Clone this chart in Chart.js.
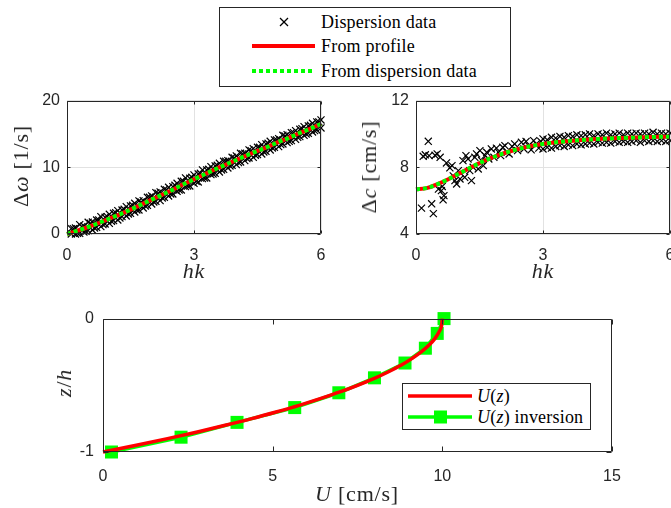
<!DOCTYPE html>
<html><head><meta charset="utf-8">
<script src="https://cdn.jsdelivr.net/npm/chart.js@4.4.1/dist/chart.umd.min.js"></script>
<style>
html,body{margin:0;padding:0;}
body{width:671px;height:508px;overflow:hidden;background:#fff;position:relative;}
canvas{position:absolute;}
.lbl{position:absolute;font-family:"Liberation Serif","DejaVu Serif",serif;font-size:22px;color:#262626;white-space:nowrap;transform:translate(-50%,-50%);letter-spacing:0.8px;}
.rot{transform:translate(-50%,-50%) rotate(-90deg);}
i{font-style:italic;}
.leg{position:absolute;border:1px solid #262626;background:#fff;box-sizing:border-box;font-family:"Liberation Serif","DejaVu Serif",serif;color:#000;}
.row{position:absolute;left:0;height:24px;width:100%;}
.row svg{position:absolute;top:0;}
.row span{position:absolute;top:0;line-height:24px;font-size:18px;letter-spacing:0.2px;white-space:nowrap;}
</style>
</head><body>
<canvas id="c1" width="340" height="206" style="left:0;top:84px"></canvas>
<canvas id="c2" width="340" height="206" style="left:349px;top:84px"></canvas>
<canvas id="c3" width="671" height="208" style="left:0;top:300px"></canvas>

<div class="lbl rot" style="left:21px;top:166px">Δ<i>ω</i> [1/s]</div>
<div class="lbl" style="left:194px;top:271px"><i>hk</i></div>
<div class="lbl rot" style="left:369px;top:167px">Δ<i>c</i> [cm/s]</div>
<div class="lbl" style="left:543px;top:271px"><i>hk</i></div>
<div class="lbl rot" style="left:64px;top:383px"><i>z</i>/<i>h</i></div>
<div class="lbl" style="left:357px;top:494px"><i>U</i> [cm/s]</div>

<div class="leg" style="left:219px;top:7px;width:292px;height:80px">
  <div class="row" style="top:2px">
    <svg width="70" height="24" style="left:30px"><line x1="30" y1="8" x2="38" y2="16" stroke="#000" stroke-width="1.3"/><line x1="38" y1="8" x2="30" y2="16" stroke="#000" stroke-width="1.3"/></svg>
    <span style="left:101px">Dispersion data</span>
  </div>
  <div class="row" style="top:26px">
    <svg width="70" height="24" style="left:32px"><line x1="0" y1="12" x2="63" y2="12" stroke="#ff0000" stroke-width="4"/></svg>
    <span style="left:101px">From profile</span>
  </div>
  <div class="row" style="top:51px">
    <svg width="70" height="24" style="left:32px"><line x1="0" y1="12" x2="63" y2="12" stroke="#00ff00" stroke-width="4" stroke-dasharray="4 3"/></svg>
    <span style="left:101px">From dispersion data</span>
  </div>
</div>

<div class="leg" style="left:402px;top:383px;width:189px;height:47px">
  <div class="row" style="top:0px">
    <svg width="70" height="24" style="left:5px"><line x1="0" y1="12" x2="64" y2="12" stroke="#ff0000" stroke-width="3.5"/></svg>
    <span style="left:74px"><i>U</i>(<i>z</i>)</span>
  </div>
  <div class="row" style="top:21px">
    <svg width="70" height="24" style="left:5px"><line x1="0" y1="12" x2="64" y2="12" stroke="#00ff00" stroke-width="3.5"/><rect x="26" y="5.5" width="13" height="13" fill="#00ff00"/></svg>
    <span style="left:74px"><i>U</i>(<i>z</i>) inversion</span>
  </div>
</div>

<script>
// ---- tick labels ----
const hkTicks = [0, 3, 6];
const omegaTicks = [0, 10, 20];
const cTicks = [4, 8, 12];
const uTicks = [0, 5, 10, 15];
const zTicks = [-1, 0];

// ---- curves (top plots) ----
const curveHk = [0,0.25,0.5,0.75,1,1.25,1.5,1.75,2,2.25,2.5,2.75,3,3.25,3.5,3.75,4,4.25,4.5,4.75,5,5.25,5.5,5.75,6];
const omegaFromProfile = [0,0.5,1.05,1.65,2.3,2.95,3.65,4.4,5.15,5.9,6.65,7.45,8.2,8.95,9.7,10.4,11.1,11.8,12.45,13.1,13.8,14.45,15.15,15.8,16.5];
const omegaFromDispersion = [0,0.5,1.05,1.65,2.3,2.95,3.65,4.4,5.15,5.9,6.65,7.45,8.2,8.95,9.7,10.4,11.1,11.8,12.45,13.1,13.8,14.45,15.15,15.8,16.5];
const cFromProfile = [6.68,6.75,6.98,7.27,7.6,7.93,8.25,8.53,8.78,8.98,9.15,9.29,9.4,9.48,9.55,9.6,9.65,9.69,9.72,9.75,9.77,9.79,9.81,9.83,9.84];
const cFromDispersion = [6.68,6.75,6.98,7.27,7.6,7.93,8.25,8.53,8.78,8.98,9.15,9.29,9.4,9.48,9.55,9.6,9.65,9.69,9.72,9.75,9.77,9.79,9.81,9.83,9.84];

// ---- dispersion data (top-left) ----
const scatHk = [0.1,0.2,0.3,0.4,0.5,0.6,0.7,0.8,0.9,1.0,1.1,1.2,1.3,1.4,1.5,1.6,1.7,1.8,1.9,2.0,2.1,2.2,2.3,2.4,2.5,2.6,2.7,2.8,2.9,3.0,3.1,3.2,3.3,3.4,3.5,3.6,3.7,3.8,3.9,4.0,4.1,4.2,4.3,4.4,4.5,4.6,4.7,4.8,4.9,5.0,5.1,5.2,5.3,5.4,5.5,5.6,5.7,5.8,5.9,6.0];
const scatOmegaUpper = [0.8,0.9,1.4,1.2,1.75,1.8,2.1,2.6,2.5,2.95,3.1,3.5,3.6,4.1,4.2,4.6,4.95,5.0,5.5,5.7,6.2,6.3,6.7,7.0,7.1,7.6,7.9,8.4,8.35,8.85,9.0,9.6,9.6,10.1,10.2,10.6,10.9,11.0,11.5,11.7,12.1,12.1,12.6,12.8,13.0,13.4,13.5,13.9,14.1,14.3,14.8,14.9,15.2,15.5,15.7,16.1,16.2,16.6,16.8,17.1];
const scatOmegaLower = [0.0,0.0,0.1,0.3,0.5,0.6,1.0,1.1,1.5,1.6,2.0,2.1,2.6,2.7,3.1,3.3,3.6,3.9,4.3,4.5,4.9,5.0,5.5,5.7,6.0,6.4,6.6,7.1,7.2,7.6,7.8,8.3,8.4,8.9,9.1,9.3,9.7,9.9,10.3,10.4,10.8,11.0,11.4,11.5,11.9,12.0,12.4,12.6,13.0,13.1,13.5,13.7,14.0,14.2,14.6,14.8,15.1,15.3,15.6,15.9];
const scatHkMid = [0.15,0.25,0.35,0.45,0.55,0.65,0.75,0.85,0.95,1.05,1.15,1.25,1.35,1.45,1.55,1.65,1.75,1.85,1.95,2.05,2.15,2.25,2.35,2.45,2.55,2.65,2.75,2.85,2.95,3.05,3.15,3.25,3.35,3.45,3.55,3.65,3.75,3.85,3.95,4.05,4.15,4.25,4.35,4.45,4.55,4.65,4.75,4.85,4.95,5.05,5.15,5.25,5.35,5.45,5.55,5.65,5.75,5.85,5.95];
const scatOmegaMid = [0.8,0.1,1.1,0.4,1.6,0.9,2.1,1.4,2.6,1.9,3.2,2.4,3.7,3.0,4.3,3.6,4.8,4.2,5.5,4.8,6.1,5.4,6.6,6.0,7.3,6.6,7.9,7.2,8.5,7.9,9.1,8.4,9.7,9.0,10.3,9.6,10.9,10.2,11.4,10.7,12.0,11.3,12.5,11.8,13.0,12.3,13.6,12.9,14.1,13.4,14.7,13.9,15.2,14.5,15.8,15.0,16.3,15.5,16.8];

// ---- dispersion data (top-right) ----
const lowHk = [0.13,0.17,0.22,0.29,0.31,0.37,0.41,0.45,0.5,0.57,0.53,0.6,0.64,0.66,0.62,0.72,0.8,0.85,0.88,0.92,0.96,1.0,1.04,1.11,1.15,1.18,1.23,1.27,1.31,1.35,1.39,1.43,1.47,1.51,1.55,1.59,1.63,1.67,1.72,1.78,1.84,1.9,1.95,2.0,2.05,2.1,2.15,2.2,2.27,2.33,2.4,2.49,2.55,2.6,2.66,2.72,2.78,2.84,2.9,2.95];
const lowC = [5.55,8.66,8.75,9.56,8.7,5.81,5.22,8.72,8.8,8.6,6.69,6.6,6.05,6.3,6.85,8.26,7.97,8.1,7.48,7.2,7.0,7.8,7.3,8.4,7.4,8.7,8.5,7.8,7.2,8.0,8.6,8.8,7.9,9.0,8.4,8.1,8.7,8.9,8.5,9.1,8.6,9.15,8.9,8.7,9.2,9.3,8.9,8.8,9.25,9.4,9.0,9.5,9.1,9.55,9.3,9.05,9.6,9.4,9.15,9.55];
const bandHk = [3.0,3.1,3.2,3.3,3.4,3.5,3.6,3.7,3.8,3.9,4.0,4.1,4.2,4.3,4.4,4.5,4.6,4.7,4.8,4.9,5.0,5.1,5.2,5.3,5.4,5.5,5.6,5.7,5.8,5.9,6.0];
const bandCUpper = [9.7,9.65,9.8,9.75,9.85,9.8,9.9,9.85,9.95,9.9,9.95,10.0,9.9,10.0,9.95,10.05,9.95,10.0,10.05,9.95,10.05,10.0,10.05,10.0,10.05,10.0,10.1,10.0,10.05,10.0,10.05];
const bandCLower = [9.1,9.2,9.15,9.25,9.3,9.25,9.35,9.3,9.4,9.35,9.4,9.45,9.4,9.5,9.45,9.5,9.45,9.55,9.5,9.55,9.5,9.55,9.6,9.5,9.6,9.55,9.6,9.55,9.6,9.55,9.6];

// ---- velocity profile (bottom) ----
const profileZ = [-1,-0.95,-0.9,-0.85,-0.8,-0.75,-0.7,-0.65,-0.6,-0.55,-0.5,-0.45,-0.4,-0.35,-0.3,-0.25,-0.2,-0.15,-0.1,-0.05,0];
const profileU = [0,0.98,1.9,2.78,3.6,4.38,5.1,5.78,6.4,6.98,7.5,7.98,8.4,8.78,9.1,9.38,9.6,9.78,9.9,9.98,10.0];
const inversionZ = [-1,-0.889,-0.778,-0.667,-0.556,-0.444,-0.333,-0.222,-0.111,0];
const inversionU = [0.25,2.3,3.95,5.65,6.95,8.0,8.9,9.5,9.85,10.05];

// ---- helpers ----
const pts = (xs, ys) => xs.map((x, i) => ({x, y: ys[i]}));
const AX = '#262626';
const tickFont = {family: '"Liberation Sans", Arial, sans-serif', size: 16};

const boxPlugin = {
  id: 'box',
  afterDraw(chart, args, opts) {
    const {ctx, chartArea: a, scales: {x, y}} = chart;
    const L = opts.len || 4;
    const l = Math.round(a.left) + 0.5, t = Math.round(a.top) + 0.5;
    const r = Math.round(a.right) - 0.5, b = Math.round(a.bottom) - 0.5;
    ctx.save();
    ctx.strokeStyle = AX; ctx.lineWidth = 1;
    ctx.beginPath();
    ctx.moveTo(l, t); ctx.lineTo(r, t); ctx.lineTo(r, b); ctx.lineTo(l, b); ctx.closePath();
    x.ticks.forEach(tk => {
      const p = Math.round(x.getPixelForValue(tk.value)) + 0.5;
      ctx.moveTo(p, b); ctx.lineTo(p, b - L);
      ctx.moveTo(p, t); ctx.lineTo(p, t + L);
    });
    y.ticks.forEach(tk => {
      const p = Math.round(y.getPixelForValue(tk.value)) + 0.5;
      ctx.moveTo(l, p); ctx.lineTo(l + L, p);
      ctx.moveTo(r, p); ctx.lineTo(r - L, p);
    });
    ctx.stroke();
    ctx.restore();
  }
};

function scales(xmin, xmax, xt, ymin, ymax, yt, yw, grid, xpad, ypad) {
  const g = grid ? {display: true, color: '#e2e2e2', drawTicks: false} : {display: false, drawTicks: false};
  return {
    x: {type: 'linear', min: xmin, max: xmax,
        afterBuildTicks: s => { s.ticks = xt.map(v => ({value: v})); },
        afterFit: s => { s.height = 56; },
        ticks: {font: tickFont, color: AX, padding: xpad, maxRotation: 0},
        grid: g, border: {display: false}},
    y: {type: 'linear', min: ymin, max: ymax,
        afterBuildTicks: s => { s.ticks = yt.map(v => ({value: v})); },
        afterFit: s => { s.width = yw; },
        ticks: {font: tickFont, color: AX, padding: ypad},
        grid: g, border: {display: false}}
  };
}

const baseOpts = (sc, pad, len) => ({
  responsive: false, animation: false, devicePixelRatio: 1,
  layout: {padding: pad},
  plugins: {legend: {display: false}, tooltip: {enabled: false}, box: {len}},
  scales: sc
});

const crossDs = (data) => ({
  data, showLine: false, pointStyle: 'crossRot', pointRadius: 5, pointBorderWidth: 1.2,
  borderColor: '#000', backgroundColor: '#000', clip: false, order: 3
});
const redDs = (data) => ({
  data, showLine: true, borderColor: '#ff0000', borderWidth: 4, pointRadius: 0,
  cubicInterpolationMode: 'monotone', order: 2, clip: false
});
const greenDotDs = (data) => ({
  data, showLine: true, borderColor: '#00ff00', borderWidth: 4, borderDash: [4, 3], pointRadius: 0,
  cubicInterpolationMode: 'monotone', order: 1, clip: false, borderCapStyle: 'butt'
});

// Chart 1: Δω vs hk
new Chart(document.getElementById('c1'), {
  type: 'scatter',
  data: {datasets: [
    crossDs(pts(scatHk, scatOmegaUpper).concat(pts(scatHk, scatOmegaLower), pts(scatHkMid, scatOmegaMid))),
    redDs(pts(curveHk, omegaFromProfile)),
    greenDotDs(pts(curveHk, omegaFromDispersion))
  ]},
  options: baseOpts(scales(0, 6, hkTicks, 0, 20, omegaTicks, 67, true, 12, 7),
    {top: 14, right: 19, left: 0, bottom: 0}, 3),
  plugins: [boxPlugin]
});

// Chart 2: Δc vs hk
new Chart(document.getElementById('c2'), {
  type: 'scatter',
  data: {datasets: [
    crossDs(pts(lowHk, lowC).concat(pts(bandHk, bandCUpper), pts(bandHk, bandCLower))),
    redDs(pts(curveHk, cFromProfile)),
    greenDotDs(pts(curveHk, cFromDispersion))
  ]},
  options: baseOpts(scales(0, 6, hkTicks, 4, 12, cTicks, 67, true, 12, 7),
    {top: 14, right: 19, left: 0, bottom: 0}, 3),
  plugins: [boxPlugin]
});

// Chart 3: z/h vs U
new Chart(document.getElementById('c3'), {
  type: 'scatter',
  data: {datasets: [
    {data: pts(inversionU, inversionZ), showLine: true, borderColor: '#00ff00', borderWidth: 3.5,
     pointStyle: 'rect', pointRadius: 9.2, pointBorderWidth: 0, backgroundColor: '#00ff00',
     pointBackgroundColor: '#00ff00', clip: false, order: 2},
    {data: pts(profileU, profileZ), showLine: true, borderColor: '#ff0000', borderWidth: 3.5,
     pointRadius: 0, cubicInterpolationMode: 'monotone', clip: false, order: 1}
  ]},
  options: baseOpts(scales(0, 15, uTicks, -1, 0, zTicks, 103, false, 15, 9),
    {top: 16, right: 59, left: 0, bottom: 0}, 5),
  plugins: [boxPlugin]
});
</script>
</body></html>
